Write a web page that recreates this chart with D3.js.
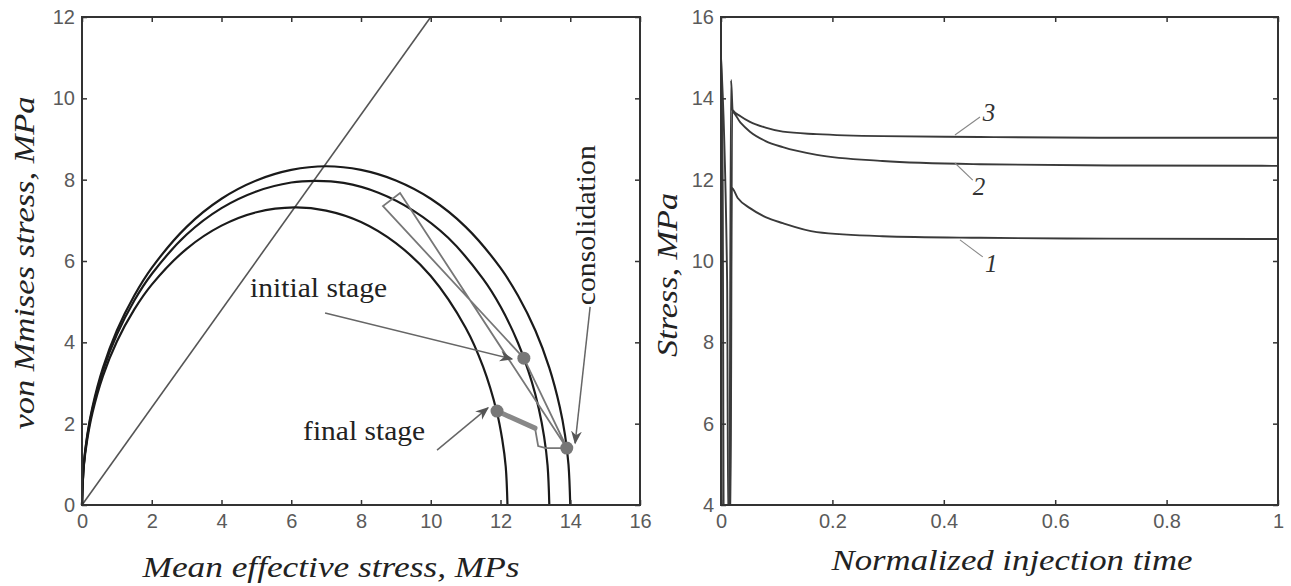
<html>
<head>
    <style>
        body { margin: 0; background: #ffffff; }
        svg { display: block; }
        .tick text { font-family: "Liberation Sans", Arial, sans-serif; font-size: 20px; fill: #5a5a5a; }
        .tick line { stroke: #333; stroke-width: 1.5; }
        .titulo { font-family: "Liberation Serif", "Times New Roman", serif; font-style: italic; font-size: 30px; fill: #222; }
        .nota { font-family: "Liberation Serif", "Times New Roman", serif; font-size: 27px; fill: #222; }
        .numero { font-family: "Liberation Serif", "Times New Roman", serif; font-style: italic; font-size: 25px; fill: #333; }
    </style>
    <script src="https://cdn.jsdelivr.net/npm/d3@7/dist/d3.min.js"></script>
</head>
<body>
<svg id="Figura"></svg>

<script>
    // ---- datos del panel izquierdo (p, q) ----
    let ticksP = [0, 2, 4, 6, 8, 10, 12, 14, 16];
    let ticksQ = [0, 2, 4, 6, 8, 10, 12];

    let superficieExterna = [[0,0],[0.05,0.99],[0.15,1.72],[0.3,2.41],[0.6,3.37],[1,4.29],[1.5,5.15],[2,5.83],[3,6.84],[4,7.53],[5,7.98],[6,8.24],[7,8.33],[8,8.24],[9,7.98],[10,7.53],[11,6.84],[12,5.83],[12.5,5.15],[13,4.29],[13.4,3.37],[13.7,2.41],[13.85,1.72],[13.95,0.99],[14,0]];
    let superficieMedia = [[0,0],[0.05,0.97],[0.15,1.68],[0.3,2.36],[0.6,3.30],[1,4.19],[1.5,5.03],[2,5.68],[3,6.65],[4,7.30],[5,7.71],[6,7.93],[6.7,7.97],[7.5,7.92],[8.5,7.68],[9.5,7.24],[10.5,6.57],[11.5,5.56],[12,4.88],[12.5,3.99],[12.9,3.02],[13.1,2.36],[13.25,1.68],[13.35,0.97],[13.4,0]];
    let superficieInterna = [[0,0],[0.05,0.94],[0.15,1.61],[0.3,2.27],[0.6,3.17],[1,4.02],[1.5,4.81],[2,5.42],[3,6.30],[4,6.87],[5,7.20],[6.1,7.32],[7,7.24],[8,6.96],[9,6.44],[10,5.63],[11,4.36],[11.5,3.40],[11.9,2.27],[12.05,1.61],[12.15,0.94],[12.2,0]];

    let lineaCritica = [[0,0],[10,12]];
    let trayectoria = [[13.9,1.4],[9.12,7.67],[8.63,7.35],[12.67,3.61],[13.85,1.5]];
    let trayectoriaFinal = [[11.9,2.31],[12.99,1.89]];
    let cierre = [[12.99,1.89],[13.08,1.45],[13.3,1.4],[13.9,1.4]];
    let puntos = [[12.67,3.61],[11.9,2.31],[13.9,1.4]];

    let notas = [
        { texto: "initial stage", x: 4.82, y: 5.11, largo: 137, giro: false },
        { texto: "final stage", x: 6.34, y: 1.60, largo: 122, giro: false },
        { texto: "consolidation", x: 14.71, y: 6.88, largo: 160, giro: true }
    ];
    let flechas = [
        [[6.97,4.72],[12.33,3.59]],
        [[10.18,1.35],[11.64,2.39]],
        [[14.57,4.87],[14.14,1.52]]
    ];

    // ---- datos del panel derecho ----
    let ticksT = [0, 0.2, 0.4, 0.6, 0.8, 1];
    let ticksS = [4, 6, 8, 10, 12, 14, 16];

    let curva1 = [[0,12.0],[0.002,3.5],[0.016,3.5],[0.019,11.8],[0.03,11.55],[0.052,11.3],[0.08,11.08],[0.111,10.93],[0.172,10.71],[0.29,10.61],[0.465,10.57],[0.7,10.55],[1,10.54]];
    let curva2 = [[0,15.0],[0.011,9.5],[0.013,3.5],[0.017,3.5],[0.02,13.67],[0.035,13.4],[0.052,13.18],[0.08,12.95],[0.111,12.8],[0.172,12.61],[0.29,12.46],[0.465,12.38],[0.7,12.35],[1,12.34]];
    let curva3 = [[0,15.0],[0.003,12],[0.005,3.5],[0.015,3.5],[0.018,14.45],[0.021,13.71],[0.035,13.56],[0.052,13.42],[0.08,13.28],[0.111,13.18],[0.172,13.12],[0.29,13.07],[0.465,13.05],[0.7,13.03],[1,13.03]];

    let etiquetasCurvas = [
        { texto: "3", desde: [0.42,13.10], hasta: [0.465,13.54], x: 0.47, y: 13.44 },
        { texto: "2", desde: [0.42,12.41], hasta: [0.452,11.99], x: 0.452, y: 11.62 },
        { texto: "1", desde: [0.429,10.52], hasta: [0.47,10.1], x: 0.474, y: 9.73 }
    ];

    let svg = d3.select("#Figura").attr("width", 1291).attr("height", 586);
    svg.append("rect").attr("width", 1291).attr("height", 586).attr("fill", "#fff");

    let defs = svg.append("defs");
    defs.append("marker")
        .attr("id", "punta")
        .attr("viewBox", "0 0 10 10")
        .attr("refX", 9).attr("refY", 5)
        .attr("markerWidth", 9).attr("markerHeight", 9)
        .attr("orient", "auto")
        .append("path")
            .attr("d", "M0,1 L10,5 L0,9 L3,5 Z")
            .attr("fill", "#555");

    function dibujarMarco(g, x, y, formatoX) {
        let ancho = x.range()[1], alto = y.range()[0];

        g.append("g").attr("transform", `translate(0,${alto})`)
            .call(d3.axisBottom(x).tickValues(x.ticksLista).tickFormat(formatoX).tickSize(-5).tickPadding(9))
            .call(e => e.select(".domain").remove());
        g.append("g")
            .call(d3.axisTop(x).tickValues(x.ticksLista).tickFormat("").tickSize(-5))
            .call(e => e.select(".domain").remove());
        g.append("g")
            .call(d3.axisLeft(y).tickValues(y.ticksLista).tickSize(-5).tickPadding(7))
            .call(e => e.select(".domain").remove());
        g.append("g").attr("transform", `translate(${ancho},0)`)
            .call(d3.axisRight(y).tickValues(y.ticksLista).tickFormat("").tickSize(-5))
            .call(e => e.select(".domain").remove());

        g.append("rect")
            .attr("width", ancho).attr("height", alto)
            .attr("fill", "none").attr("stroke", "#333").attr("stroke-width", 2);
    }

    // texto ensanchado: el original tiene las letras estiradas
    function titulo(x, y, largo, texto, giro) {
        let t = svg.append("text").attr("class", "titulo")
            .attr("text-anchor", "middle")
            .attr("textLength", largo).attr("lengthAdjust", "spacingAndGlyphs")
            .text(texto);
        if (giro) t.attr("transform", `translate(${x},${y}) rotate(-90)`);
        else t.attr("x", x).attr("y", y);
    }

    function panelIzquierdo() {
        let margen = { left: 82, top: 17 };
        let ancho = 558, alto = 488;
        let g = svg.append("g").attr("transform", `translate(${margen.left},${margen.top})`);

        let x = d3.scaleLinear().domain([0, 16]).range([0, ancho]);
        let y = d3.scaleLinear().domain([0, 12]).range([alto, 0]);
        x.ticksLista = ticksP; y.ticksLista = ticksQ;

        let linea = d3.line().x(d => x(d[0])).y(d => y(d[1]));
        let suave = d3.line().x(d => x(d[0])).y(d => y(d[1])).curve(d3.curveCatmullRom.alpha(0.5));

        g.append("path").attr("d", linea(lineaCritica))
            .attr("fill", "none").attr("stroke", "#555").attr("stroke-width", 1.6);

        [superficieExterna, superficieMedia, superficieInterna].forEach(s => {
            g.append("path").attr("d", suave(s))
                .attr("fill", "none").attr("stroke", "#1a1a1a").attr("stroke-width", 2.2);
        });

        g.append("path").attr("d", linea(trayectoria))
            .attr("fill", "none").attr("stroke", "#777").attr("stroke-width", 1.8);
        g.append("path").attr("d", linea(cierre))
            .attr("fill", "none").attr("stroke", "#777").attr("stroke-width", 1.8);
        g.append("path").attr("d", linea(trayectoriaFinal))
            .attr("fill", "none").attr("stroke", "#888").attr("stroke-width", 5).attr("stroke-linecap", "round");

        g.selectAll(".punto").data(puntos).enter().append("circle")
            .attr("cx", d => x(d[0])).attr("cy", d => y(d[1]))
            .attr("r", 6.5).attr("fill", "#777");

        g.selectAll(".flecha").data(flechas).enter().append("path")
            .attr("d", d => linea(d))
            .attr("fill", "none").attr("stroke", "#666").attr("stroke-width", 1.5)
            .attr("marker-end", "url(#punta)");

        notas.forEach(n => {
            let t = g.append("text").attr("class", "nota")
                .attr("textLength", n.largo).attr("lengthAdjust", "spacingAndGlyphs")
                .text(n.texto);
            if (n.giro) {
                t.attr("text-anchor", "middle")
                 .attr("transform", `translate(${x(n.x)},${y(n.y)}) rotate(-90)`);
            } else {
                t.attr("x", x(n.x)).attr("y", y(n.y));
            }
        });

        dibujarMarco(g, x, y, d3.format("d"));

        titulo(331, 577, 377, "Mean effective stress, MPs", false);
        titulo(34, 263, 333, "von Mmises stress, MPa", true);
    }

    function panelDerecho() {
        let margen = { left: 721, top: 17 };
        let ancho = 557, alto = 488;
        let g = svg.append("g").attr("transform", `translate(${margen.left},${margen.top})`);

        let x = d3.scaleLinear().domain([0, 1]).range([0, ancho]);
        let y = d3.scaleLinear().domain([4, 16]).range([alto, 0]);
        x.ticksLista = ticksT; y.ticksLista = ticksS;

        defs.append("clipPath").attr("id", "recorte")
            .append("rect").attr("width", ancho).attr("height", alto);

        let linea = d3.line().x(d => x(d[0])).y(d => y(d[1]));
        let suave = d3.line().x(d => x(d[0])).y(d => y(d[1])).curve(d3.curveMonotoneX);

        let cuerpo = g.append("g").attr("clip-path", "url(#recorte)");
        [curva1, curva2, curva3].forEach(c => {
            cuerpo.append("path").attr("d", suave(c))
                .attr("fill", "none").attr("stroke", "#3a3a3a").attr("stroke-width", 1.9);
        });

        etiquetasCurvas.forEach(e => {
            g.append("path").attr("d", linea([e.desde, e.hasta]))
                .attr("fill", "none").attr("stroke", "#888").attr("stroke-width", 1.1);
            g.append("text").attr("class", "numero")
                .attr("x", x(e.x)).attr("y", y(e.y))
                .text(e.texto);
        });

        dibujarMarco(g, x, y, d => d === 0 || d === 1 ? d3.format("d")(d) : d3.format(".1f")(d));

        titulo(1012, 570, 361, "Normalized injection time", false);
        titulo(677, 275, 164, "Stress, MPa", true);
    }

    panelIzquierdo();
    panelDerecho();
</script>
</body>
</html>
